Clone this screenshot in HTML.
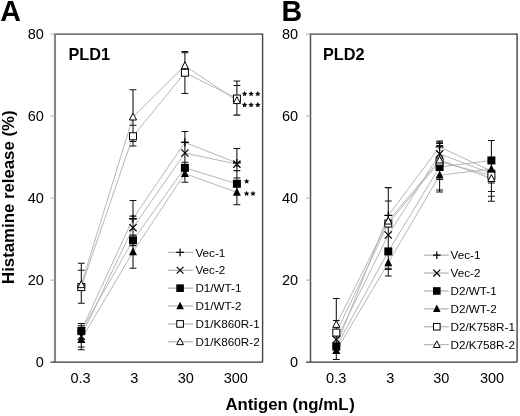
<!DOCTYPE html>
<html><head><meta charset="utf-8"><style>
html,body{margin:0;padding:0;background:#fff;}
body{width:520px;height:416px;overflow:hidden;}
svg{display:block;font-family:"Liberation Sans", sans-serif;fill:#000;will-change:transform;}
text{font-family:"Liberation Sans", sans-serif;fill:#000;}
</style></head><body>
<svg width="520" height="416" viewBox="0 0 520 416">
<polyline points="81.30,330.54 133.00,218.64 184.90,142.39 236.90,162.89" fill="none" stroke="#b2b2b2" stroke-width="0.95"/>
<polyline points="81.30,336.28 133.00,227.65 184.90,153.05 236.90,164.12" fill="none" stroke="#b2b2b2" stroke-width="0.95"/>
<polyline points="81.30,330.95 133.00,240.36 184.90,167.81 236.90,183.79" fill="none" stroke="#b2b2b2" stroke-width="0.95"/>
<polyline points="81.30,339.56 133.00,251.84 184.90,173.55 236.90,192.40" fill="none" stroke="#b2b2b2" stroke-width="0.95"/>
<polyline points="81.30,287.09 133.00,136.25 184.90,72.71 236.90,98.53" fill="none" stroke="#b2b2b2" stroke-width="0.95"/>
<polyline points="81.30,284.63 133.00,116.98 184.90,65.74 236.90,100.58" fill="none" stroke="#b2b2b2" stroke-width="0.95"/>
<path d="M81.30 263.20V303.20M77.90 263.20H84.70M77.90 270.20H84.70M77.90 303.20H84.70" stroke="#111" stroke-width="1.05" fill="none"/>
<path d="M81.30 323.40V349.80M77.90 323.40H84.70M77.90 325.80H84.70M77.90 346.90H84.70M77.90 349.80H84.70" stroke="#111" stroke-width="1.05" fill="none"/>
<path d="M133.00 89.80V145.90M129.60 89.80H136.40M129.60 125.20H136.40M129.60 141.40H136.40M129.60 145.90H136.40" stroke="#111" stroke-width="1.05" fill="none"/>
<path d="M133.00 200.40V268.30M129.60 200.40H136.40M129.60 216.10H136.40M129.60 219.00H136.40M129.60 235.10H136.40M129.60 245.60H136.40M129.60 268.30H136.40" stroke="#111" stroke-width="1.05" fill="none"/>
<path d="M184.90 51.40V93.50M181.50 51.40H188.30M181.50 52.80H188.30M181.50 93.50H188.30" stroke="#111" stroke-width="1.05" fill="none"/>
<path d="M184.90 131.40V182.30M181.50 131.40H188.30M181.50 142.20H188.30M181.50 162.30H188.30M181.50 182.30H188.30" stroke="#111" stroke-width="1.05" fill="none"/>
<path d="M236.90 80.90V115.10M233.50 80.90H240.30M233.50 85.50H240.30M233.50 115.10H240.30" stroke="#111" stroke-width="1.05" fill="none"/>
<path d="M236.90 148.40V204.80M233.50 148.40H240.30M233.50 170.60H240.30M233.50 177.90H240.30M233.50 204.80H240.30" stroke="#111" stroke-width="1.05" fill="none"/>
<path d="M77.30 330.54H85.30M81.30 326.54V334.54" stroke="#000" stroke-width="1.2" fill="none"/>
<path d="M129.00 218.64H137.00M133.00 214.64V222.64" stroke="#000" stroke-width="1.2" fill="none"/>
<path d="M180.90 142.39H188.90M184.90 138.39V146.39" stroke="#000" stroke-width="1.2" fill="none"/>
<path d="M232.90 162.89H240.90M236.90 158.89V166.89" stroke="#000" stroke-width="1.2" fill="none"/>
<path d="M77.70 332.68L84.90 339.88M77.70 339.88L84.90 332.68" stroke="#000" stroke-width="1.2" fill="none"/>
<path d="M129.40 224.05L136.60 231.25M129.40 231.25L136.60 224.05" stroke="#000" stroke-width="1.2" fill="none"/>
<path d="M181.30 149.45L188.50 156.65M181.30 156.65L188.50 149.45" stroke="#000" stroke-width="1.2" fill="none"/>
<path d="M233.30 160.52L240.50 167.72M233.30 167.72L240.50 160.52" stroke="#000" stroke-width="1.2" fill="none"/>
<rect x="77.30" y="326.95" width="8.00" height="8.00" fill="#000"/>
<rect x="129.00" y="236.36" width="8.00" height="8.00" fill="#000"/>
<rect x="180.90" y="163.81" width="8.00" height="8.00" fill="#000"/>
<rect x="232.90" y="179.79" width="8.00" height="8.00" fill="#000"/>
<path d="M81.30 334.96L85.30 342.96L77.30 342.96Z" fill="#000"/>
<path d="M133.00 247.24L137.00 255.24L129.00 255.24Z" fill="#000"/>
<path d="M184.90 168.95L188.90 176.95L180.90 176.95Z" fill="#000"/>
<path d="M236.90 187.80L240.90 195.80L232.90 195.80Z" fill="#000"/>
<rect x="77.80" y="283.59" width="7.00" height="7.00" fill="#fff" stroke="#000" stroke-width="1"/>
<rect x="129.50" y="132.75" width="7.00" height="7.00" fill="#fff" stroke="#000" stroke-width="1"/>
<rect x="181.40" y="69.21" width="7.00" height="7.00" fill="#fff" stroke="#000" stroke-width="1"/>
<rect x="233.40" y="95.03" width="7.00" height="7.00" fill="#fff" stroke="#000" stroke-width="1"/>
<path d="M81.30 280.73L84.85 287.63L77.75 287.63Z" fill="#fff" stroke="#000" stroke-width="1" stroke-linejoin="miter"/>
<path d="M133.00 113.08L136.55 119.98L129.45 119.98Z" fill="#fff" stroke="#000" stroke-width="1" stroke-linejoin="miter"/>
<path d="M184.90 61.84L188.45 68.74L181.35 68.74Z" fill="#fff" stroke="#000" stroke-width="1" stroke-linejoin="miter"/>
<path d="M236.90 96.68L240.45 103.58L233.35 103.58Z" fill="#fff" stroke="#000" stroke-width="1" stroke-linejoin="miter"/>
<path d="M55.00 34.18H262.60" stroke="#777" stroke-width="1.7" fill="none"/>
<path d="M262.60 33.38V362.10" stroke="#444" stroke-width="1.4" fill="none"/>
<path d="M55.00 33.38V362.10" stroke="#858585" stroke-width="2.1" fill="none"/>
<path d="M50.50 362.10H262.60" stroke="#333" stroke-width="1.3" fill="none"/>
<path d="M50.50 280.12H55.00" stroke="#aaa" stroke-width="1" fill="none"/>
<path d="M50.50 198.14H55.00" stroke="#aaa" stroke-width="1" fill="none"/>
<path d="M50.50 116.16H55.00" stroke="#aaa" stroke-width="1" fill="none"/>
<path d="M50.50 34.18H55.00" stroke="#aaa" stroke-width="1" fill="none"/>
<text x="43.80" y="367.30" font-size="14.5" text-anchor="end">0</text>
<text x="43.80" y="285.32" font-size="14.5" text-anchor="end">20</text>
<text x="43.80" y="203.34" font-size="14.5" text-anchor="end">40</text>
<text x="43.80" y="121.36" font-size="14.5" text-anchor="end">60</text>
<text x="43.80" y="39.38" font-size="14.5" text-anchor="end">80</text>
<text x="80.60" y="383.2" font-size="14.5" text-anchor="middle">0.3</text>
<text x="134.20" y="383.2" font-size="14.5" text-anchor="middle">3</text>
<text x="185.80" y="383.2" font-size="14.5" text-anchor="middle">30</text>
<text x="235.80" y="383.2" font-size="14.5" text-anchor="middle">300</text>
<text x="68.50" y="59.8" font-size="16.3" font-weight="bold">PLD1</text>
<text x="0.30" y="20.9" font-size="28.6" font-weight="bold">A</text>
<path d="M167.70 252.40H193.00" stroke="#b8b8b8" stroke-width="1.3" fill="none"/>
<path d="M176.30 252.40H183.90M180.10 248.60V256.20" stroke="#000" stroke-width="1.2" fill="none"/>
<text x="195.40" y="256.50" font-size="11.7">Vec-1</text>
<path d="M167.70 270.28H193.00" stroke="#b8b8b8" stroke-width="1.3" fill="none"/>
<path d="M176.68 266.86L183.52 273.70M176.68 273.70L183.52 266.86" stroke="#000" stroke-width="1.2" fill="none"/>
<text x="195.40" y="274.38" font-size="11.7">Vec-2</text>
<path d="M167.70 288.16H193.00" stroke="#b8b8b8" stroke-width="1.3" fill="none"/>
<rect x="176.30" y="284.36" width="7.60" height="7.60" fill="#000"/>
<text x="195.40" y="292.26" font-size="11.7">D1/WT-1</text>
<path d="M167.70 306.04H193.00" stroke="#b8b8b8" stroke-width="1.3" fill="none"/>
<path d="M180.10 301.67L183.90 309.27L176.30 309.27Z" fill="#000"/>
<text x="195.40" y="310.14" font-size="11.7">D1/WT-2</text>
<path d="M167.70 323.92H193.00" stroke="#b8b8b8" stroke-width="1.3" fill="none"/>
<rect x="176.80" y="320.62" width="6.60" height="6.60" fill="#fff" stroke="#000" stroke-width="1"/>
<text x="195.40" y="328.02" font-size="11.7">D1/K860R-1</text>
<path d="M167.70 341.80H193.00" stroke="#b8b8b8" stroke-width="1.3" fill="none"/>
<path d="M180.10 338.13L183.45 344.63L176.75 344.63Z" fill="#fff" stroke="#000" stroke-width="1" stroke-linejoin="miter"/>
<text x="195.40" y="345.90" font-size="11.7">D1/K860R-2</text>
<polyline points="336.30,345.70 388.30,215.36 439.60,146.90 491.40,171.09" fill="none" stroke="#b2b2b2" stroke-width="0.95"/>
<polyline points="336.30,339.56 388.30,235.03 439.60,153.87 491.40,173.55" fill="none" stroke="#b2b2b2" stroke-width="0.95"/>
<polyline points="336.30,346.52 388.30,251.43 439.60,166.99 491.40,160.43" fill="none" stroke="#b2b2b2" stroke-width="0.95"/>
<polyline points="336.30,350.62 388.30,262.90 439.60,175.19 491.40,169.04" fill="none" stroke="#b2b2b2" stroke-width="0.95"/>
<polyline points="336.30,332.59 388.30,223.55 439.60,161.66 491.40,175.60" fill="none" stroke="#b2b2b2" stroke-width="0.95"/>
<polyline points="336.30,324.39 388.30,221.09 439.60,160.02 491.40,178.46" fill="none" stroke="#b2b2b2" stroke-width="0.95"/>
<path d="M336.30 298.40V359.40M332.90 298.40H339.70M332.90 320.40H339.70M332.90 359.40H339.70" stroke="#111" stroke-width="1.05" fill="none"/>
<path d="M388.30 187.60V276.00M384.90 187.60H391.70M384.90 201.00H391.70M384.90 215.40H391.70M384.90 268.20H391.70M384.90 269.40H391.70M384.90 276.00H391.70" stroke="#111" stroke-width="1.05" fill="none"/>
<path d="M439.60 141.00V192.00M436.20 141.00H443.00M436.20 142.20H443.00M436.20 143.40H443.00M436.20 145.60H443.00M436.20 179.50H443.00M436.20 190.00H443.00M436.20 192.00H443.00" stroke="#111" stroke-width="1.05" fill="none"/>
<path d="M491.40 140.50V201.20M488.00 140.50H494.80M488.00 183.00H494.80M488.00 191.50H494.80M488.00 196.30H494.80M488.00 201.20H494.80" stroke="#111" stroke-width="1.05" fill="none"/>
<path d="M332.30 345.70H340.30M336.30 341.70V349.70" stroke="#000" stroke-width="1.2" fill="none"/>
<path d="M384.30 215.36H392.30M388.30 211.36V219.36" stroke="#000" stroke-width="1.2" fill="none"/>
<path d="M435.60 146.90H443.60M439.60 142.90V150.90" stroke="#000" stroke-width="1.2" fill="none"/>
<path d="M487.40 171.09H495.40M491.40 167.09V175.09" stroke="#000" stroke-width="1.2" fill="none"/>
<path d="M332.70 335.96L339.90 343.16M332.70 343.16L339.90 335.96" stroke="#000" stroke-width="1.2" fill="none"/>
<path d="M384.70 231.43L391.90 238.63M384.70 238.63L391.90 231.43" stroke="#000" stroke-width="1.2" fill="none"/>
<path d="M436.00 150.27L443.20 157.47M436.00 157.47L443.20 150.27" stroke="#000" stroke-width="1.2" fill="none"/>
<path d="M487.80 169.95L495.00 177.15M487.80 177.15L495.00 169.95" stroke="#000" stroke-width="1.2" fill="none"/>
<rect x="332.30" y="342.52" width="8.00" height="8.00" fill="#000"/>
<rect x="384.30" y="247.43" width="8.00" height="8.00" fill="#000"/>
<rect x="435.60" y="162.99" width="8.00" height="8.00" fill="#000"/>
<rect x="487.40" y="156.43" width="8.00" height="8.00" fill="#000"/>
<path d="M336.30 346.02L340.30 354.02L332.30 354.02Z" fill="#000"/>
<path d="M388.30 258.30L392.30 266.30L384.30 266.30Z" fill="#000"/>
<path d="M439.60 170.59L443.60 178.59L435.60 178.59Z" fill="#000"/>
<path d="M491.40 164.44L495.40 172.44L487.40 172.44Z" fill="#000"/>
<rect x="332.80" y="329.09" width="7.00" height="7.00" fill="#fff" stroke="#000" stroke-width="1"/>
<rect x="384.80" y="220.05" width="7.00" height="7.00" fill="#fff" stroke="#000" stroke-width="1"/>
<rect x="436.10" y="158.16" width="7.00" height="7.00" fill="#fff" stroke="#000" stroke-width="1"/>
<rect x="487.90" y="172.10" width="7.00" height="7.00" fill="#fff" stroke="#000" stroke-width="1"/>
<path d="M336.30 320.49L339.85 327.39L332.75 327.39Z" fill="#fff" stroke="#000" stroke-width="1" stroke-linejoin="miter"/>
<path d="M388.30 217.19L391.85 224.09L384.75 224.09Z" fill="#fff" stroke="#000" stroke-width="1" stroke-linejoin="miter"/>
<path d="M439.60 156.12L443.15 163.02L436.05 163.02Z" fill="#fff" stroke="#000" stroke-width="1" stroke-linejoin="miter"/>
<path d="M491.40 174.56L494.95 181.46L487.85 181.46Z" fill="#fff" stroke="#000" stroke-width="1" stroke-linejoin="miter"/>
<path d="M310.50 34.18H517.10" stroke="#777" stroke-width="1.7" fill="none"/>
<path d="M517.10 33.38V362.10" stroke="#444" stroke-width="1.4" fill="none"/>
<path d="M310.50 33.38V362.10" stroke="#555" stroke-width="1.5" fill="none"/>
<path d="M306.00 362.10H517.10" stroke="#333" stroke-width="1.3" fill="none"/>
<path d="M306.00 280.12H310.50" stroke="#aaa" stroke-width="1" fill="none"/>
<path d="M306.00 198.14H310.50" stroke="#aaa" stroke-width="1" fill="none"/>
<path d="M306.00 116.16H310.50" stroke="#aaa" stroke-width="1" fill="none"/>
<path d="M306.00 34.18H310.50" stroke="#aaa" stroke-width="1" fill="none"/>
<text x="298.20" y="367.30" font-size="14.5" text-anchor="end">0</text>
<text x="298.20" y="285.32" font-size="14.5" text-anchor="end">20</text>
<text x="298.20" y="203.34" font-size="14.5" text-anchor="end">40</text>
<text x="298.20" y="121.36" font-size="14.5" text-anchor="end">60</text>
<text x="298.20" y="39.38" font-size="14.5" text-anchor="end">80</text>
<text x="336.20" y="383.2" font-size="14.5" text-anchor="middle">0.3</text>
<text x="390.40" y="383.2" font-size="14.5" text-anchor="middle">3</text>
<text x="441.30" y="383.2" font-size="14.5" text-anchor="middle">30</text>
<text x="492.10" y="383.2" font-size="14.5" text-anchor="middle">300</text>
<text x="323.00" y="59.8" font-size="16.3" font-weight="bold">PLD2</text>
<text x="281.60" y="20.9" font-size="28.6" font-weight="bold">B</text>
<path d="M423.80 255.20H448.80" stroke="#b8b8b8" stroke-width="1.3" fill="none"/>
<path d="M433.00 255.20H440.60M436.80 251.40V259.00" stroke="#000" stroke-width="1.2" fill="none"/>
<text x="450.60" y="259.30" font-size="11.7">Vec-1</text>
<path d="M423.80 273.08H448.80" stroke="#b8b8b8" stroke-width="1.3" fill="none"/>
<path d="M433.38 269.66L440.22 276.50M433.38 276.50L440.22 269.66" stroke="#000" stroke-width="1.2" fill="none"/>
<text x="450.60" y="277.18" font-size="11.7">Vec-2</text>
<path d="M423.80 290.96H448.80" stroke="#b8b8b8" stroke-width="1.3" fill="none"/>
<rect x="433.00" y="287.16" width="7.60" height="7.60" fill="#000"/>
<text x="450.60" y="295.06" font-size="11.7">D2/WT-1</text>
<path d="M423.80 308.84H448.80" stroke="#b8b8b8" stroke-width="1.3" fill="none"/>
<path d="M436.80 304.47L440.60 312.07L433.00 312.07Z" fill="#000"/>
<text x="450.60" y="312.94" font-size="11.7">D2/WT-2</text>
<path d="M423.80 326.72H448.80" stroke="#b8b8b8" stroke-width="1.3" fill="none"/>
<rect x="433.50" y="323.42" width="6.60" height="6.60" fill="#fff" stroke="#000" stroke-width="1"/>
<text x="450.60" y="330.82" font-size="11.7">D2/K758R-1</text>
<path d="M423.80 344.60H448.80" stroke="#b8b8b8" stroke-width="1.3" fill="none"/>
<path d="M436.80 340.93L440.15 347.43L433.45 347.43Z" fill="#fff" stroke="#000" stroke-width="1" stroke-linejoin="miter"/>
<text x="450.60" y="348.70" font-size="11.7">D2/K758R-2</text>
<polygon points="244.60,90.90 245.45,92.63 247.36,92.90 245.98,94.25 246.30,96.15 244.60,95.25 242.90,96.15 243.22,94.25 241.84,92.90 243.75,92.63" fill="#111"/>
<polygon points="244.60,102.10 245.45,103.83 247.36,104.10 245.98,105.45 246.30,107.35 244.60,106.45 242.90,107.35 243.22,105.45 241.84,104.10 243.75,103.83" fill="#111"/>
<polygon points="251.10,90.90 251.95,92.63 253.86,92.90 252.48,94.25 252.80,96.15 251.10,95.25 249.40,96.15 249.72,94.25 248.34,92.90 250.25,92.63" fill="#111"/>
<polygon points="251.10,102.10 251.95,103.83 253.86,104.10 252.48,105.45 252.80,107.35 251.10,106.45 249.40,107.35 249.72,105.45 248.34,104.10 250.25,103.83" fill="#111"/>
<polygon points="257.80,90.90 258.65,92.63 260.56,92.90 259.18,94.25 259.50,96.15 257.80,95.25 256.10,96.15 256.42,94.25 255.04,92.90 256.95,92.63" fill="#111"/>
<polygon points="257.80,102.10 258.65,103.83 260.56,104.10 259.18,105.45 259.50,107.35 257.80,106.45 256.10,107.35 256.42,105.45 255.04,104.10 256.95,103.83" fill="#111"/>
<polygon points="246.70,178.50 247.55,180.23 249.46,180.50 248.08,181.85 248.40,183.75 246.70,182.85 245.00,183.75 245.32,181.85 243.94,180.50 245.85,180.23" fill="#111"/>
<polygon points="246.60,190.70 247.45,192.43 249.36,192.70 247.98,194.05 248.30,195.95 246.60,195.05 244.90,195.95 245.22,194.05 243.84,192.70 245.75,192.43" fill="#111"/>
<polygon points="253.00,190.70 253.85,192.43 255.76,192.70 254.38,194.05 254.70,195.95 253.00,195.05 251.30,195.95 251.62,194.05 250.24,192.70 252.15,192.43" fill="#111"/>
<text x="225.4" y="409.6" font-size="16.8" font-weight="bold">Antigen (ng/mL</text>
<text x="349.3" y="409.6" font-size="16.8" font-weight="bold">)</text>
<text transform="translate(14.4,197.2) rotate(-90)" x="0" y="0" font-size="16.8" font-weight="bold" text-anchor="middle">Histamine release (%)</text>
</svg>
</body></html>
